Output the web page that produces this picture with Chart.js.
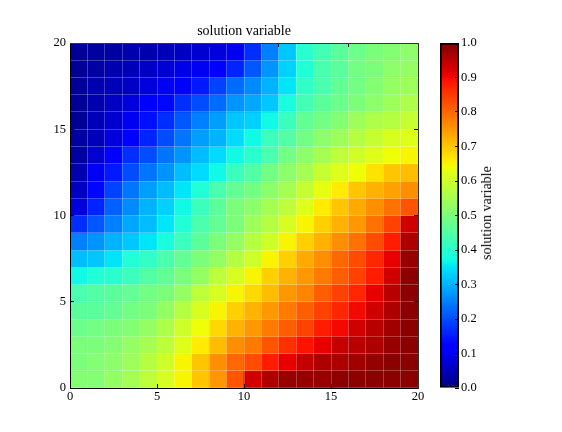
<!DOCTYPE html>
<html><head><meta charset="utf-8">
<script src="https://cdn.jsdelivr.net/npm/chart.js@4.4.0/dist/chart.umd.min.js"></script>
<style>
html,body{margin:0;padding:0;background:#fff;}
#wrap{position:relative;width:562px;height:432px;overflow:hidden;background:#fff;}
#main{position:absolute;left:0;top:0;width:562px;height:432px;}
#cbar{position:absolute;left:420px;top:0;width:142px;height:432px;}
#cblabel{position:absolute;left:487px;top:213px;transform:translate(-50%,-50%) rotate(-90deg);font:14px 'Liberation Serif',serif;white-space:nowrap;color:#000;}
</style></head><body>
<div id="wrap">
<canvas id="main" width="562" height="432"></canvas>
<canvas id="cbar" width="142" height="432"></canvas>
<div id="cblabel">solution variable</div>
</div>
<script>
// ---- data ----
const xCells = [0,1,2,3,4,5,6,7,8,9,10,11,12,13,14,15,16,17,18,19];
const yCells = [0,1,2,3,4,5,6,7,8,9,10,11,12,13,14,15,16,17,18,19];
const xTickLabels = ['0','5','10','15','20'];
const yTickLabels = ['0','5','10','15','20'];
const cbarTickLabels = ['0.0','0.1','0.2','0.3','0.4','0.5','0.6','0.7','0.8','0.9','1.0'];
const titleText = 'solution variable';

// each row: values for x cells 0..19 at given y cell
const rowY19 = [0.02,0.03,0.03,0.04,0.04,0.05,0.06,0.07,0.08,0.10,0.17,0.25,0.32,0.40,0.43,0.46,0.48,0.50,0.51,0.52];
const rowY18 = [0.02,0.03,0.04,0.05,0.06,0.07,0.09,0.10,0.12,0.16,0.21,0.27,0.33,0.39,0.44,0.46,0.49,0.50,0.52,0.53];
const rowY17 = [0.02,0.04,0.05,0.06,0.08,0.10,0.12,0.15,0.19,0.23,0.26,0.30,0.35,0.41,0.44,0.47,0.49,0.51,0.53,0.54];
const rowY16 = [0.02,0.04,0.06,0.08,0.11,0.13,0.17,0.20,0.23,0.27,0.29,0.32,0.38,0.43,0.46,0.48,0.50,0.52,0.54,0.56];
const rowY15 = [0.02,0.05,0.07,0.10,0.14,0.17,0.21,0.25,0.28,0.32,0.33,0.37,0.42,0.47,0.49,0.51,0.54,0.56,0.57,0.59];
const rowY14 = [0.03,0.05,0.08,0.12,0.16,0.20,0.24,0.28,0.30,0.34,0.37,0.42,0.45,0.49,0.52,0.54,0.57,0.59,0.61,0.62];
const rowY13 = [0.03,0.07,0.12,0.17,0.20,0.24,0.27,0.31,0.34,0.37,0.40,0.44,0.49,0.52,0.55,0.58,0.60,0.62,0.64,0.65];
const rowY12 = [0.04,0.10,0.15,0.20,0.24,0.27,0.31,0.34,0.37,0.42,0.45,0.49,0.52,0.55,0.59,0.62,0.64,0.67,0.70,0.71];
const rowY11 = [0.06,0.13,0.19,0.24,0.28,0.31,0.35,0.39,0.44,0.47,0.49,0.52,0.55,0.59,0.63,0.66,0.70,0.72,0.74,0.76];
const rowY10 = [0.08,0.16,0.22,0.26,0.30,0.33,0.37,0.42,0.46,0.50,0.52,0.55,0.58,0.62,0.66,0.70,0.73,0.76,0.79,0.82];
const rowY9  = [0.17,0.21,0.25,0.29,0.31,0.35,0.39,0.44,0.47,0.50,0.54,0.57,0.61,0.65,0.69,0.72,0.75,0.79,0.84,0.93];
const rowY8  = [0.25,0.27,0.30,0.32,0.35,0.38,0.42,0.46,0.50,0.53,0.57,0.60,0.65,0.69,0.72,0.76,0.79,0.83,0.88,0.96];
const rowY7  = [0.31,0.32,0.35,0.39,0.41,0.44,0.47,0.50,0.53,0.57,0.60,0.65,0.69,0.73,0.76,0.80,0.83,0.87,0.91,0.98];
const rowY6  = [0.37,0.39,0.40,0.42,0.45,0.47,0.50,0.53,0.58,0.61,0.65,0.69,0.72,0.75,0.78,0.81,0.84,0.88,0.93,0.99];
const rowY5  = [0.44,0.45,0.46,0.47,0.49,0.50,0.53,0.58,0.61,0.65,0.68,0.71,0.75,0.77,0.81,0.84,0.87,0.91,0.95,0.99];
const rowY4  = [0.46,0.46,0.47,0.49,0.50,0.53,0.57,0.61,0.65,0.69,0.72,0.75,0.78,0.81,0.84,0.87,0.90,0.93,0.96,0.99];
const rowY3  = [0.48,0.49,0.50,0.51,0.53,0.56,0.60,0.64,0.68,0.72,0.75,0.78,0.81,0.84,0.88,0.90,0.93,0.95,0.97,0.99];
const rowY2  = [0.50,0.50,0.51,0.53,0.55,0.58,0.62,0.66,0.71,0.76,0.78,0.82,0.86,0.89,0.91,0.94,0.95,0.96,0.98,0.99];
const rowY1  = [0.50,0.51,0.52,0.54,0.57,0.60,0.65,0.70,0.76,0.80,0.83,0.88,0.91,0.94,0.96,0.96,0.97,0.98,0.99,0.99];
const rowY0  = [0.51,0.51,0.53,0.55,0.58,0.61,0.65,0.70,0.75,0.82,0.93,0.96,0.98,0.98,0.98,0.99,0.99,0.99,0.99,0.99];

const rows = [rowY0,rowY1,rowY2,rowY3,rowY4,rowY5,rowY6,rowY7,rowY8,rowY9,
              rowY10,rowY11,rowY12,rowY13,rowY14,rowY15,rowY16,rowY17,rowY18,rowY19];

// ---- jet colormap (matplotlib segment data) ----
function seg(pts, v) {
  for (let i = 1; i < pts.length; i++) {
    if (v <= pts[i][0]) {
      const a = pts[i-1], b = pts[i];
      return a[1] + (b[1]-a[1]) * (v-a[0]) / (b[0]-a[0]);
    }
  }
  return pts[pts.length-1][1];
}
function jet(v) {
  v = Math.max(0, Math.min(1, v));
  const r = seg([[0,0],[0.35,0],[0.66,1],[0.89,1],[1,0.5]], v);
  const g = seg([[0,0],[0.125,0],[0.375,1],[0.64,1],[0.91,0],[1,0]], v);
  const b = seg([[0,0.5],[0.11,1],[0.34,1],[0.65,0],[1,0]], v);
  return 'rgb(' + Math.round(r*255) + ',' + Math.round(g*255) + ',' + Math.round(b*255) + ')';
}

const cells = [], cellColors = [];
yCells.forEach((yv, j) => {
  xCells.forEach((xv, i) => {
    cells.push({x: xv + 0.5, y: [yv, yv + 1]});
    cellColors.push(jet(rows[j][i]));
  });
});

const FONT = "'Liberation Serif','Times New Roman',serif";
Chart.defaults.font.family = FONT;
Chart.defaults.font.size = 12.5;
Chart.defaults.color = '#000';

const tickCol = (c) => (c.tick && c.tick.value % 5 === 0) ? '#000' : 'rgba(0,0,0,0)';
const gridCol = (c) => (c.tick && c.tick.value > 0 && c.tick.value < 20) ? 'rgba(255,255,255,0.24)' : 'rgba(0,0,0,0)';
const lbl = (arr) => function(v) { return (v % 5 === 0) ? arr[v/5] : ''; };

new Chart(document.getElementById('main'), {
  type: 'bar',
  data: { datasets: [{ data: cells, backgroundColor: cellColors, borderWidth: 0,
                       barPercentage: 1, categoryPercentage: 1 }] },
  options: {
    responsive: false, animation: false, devicePixelRatio: 1,
    layout: { padding: { left: 0, right: 144, top: 0, bottom: 0 } },
    plugins: {
      legend: { display: false }, tooltip: { enabled: false },
      title: { display: true, text: titleText, fullSize: false, color: '#000',
               font: { family: FONT, size: 14, weight: 'normal', lineHeight: 1.2 },
               padding: { top: 23, bottom: 3.2 } }
    },
    scales: {
      x: { type: 'linear', position: 'bottom', min: 0, max: 20, offset: false,
           ticks: { stepSize: 1, autoSkip: false, maxRotation: 0, padding: 5, callback: lbl(xTickLabels) },
           grid: { offset: false, z: 1, color: gridCol, lineWidth: 1, drawTicks: true, tickLength: -4,
                   tickColor: tickCol, tickWidth: 1 },
           border: { display: true, color: '#000', width: 1, z: 2 },
           afterFit: (s) => { s.height = 44; } },
      y: { type: 'linear', position: 'left', min: 0, max: 20,
           ticks: { stepSize: 1, autoSkip: false, padding: 8, callback: lbl(yTickLabels) },
           grid: { z: 1, color: gridCol, lineWidth: 1, drawTicks: true, tickLength: -4,
                   tickColor: tickCol, tickWidth: 1 },
           border: { display: true, color: '#000', width: 1, z: 2 },
           afterFit: (s) => { s.width = 70; } },
      x2: { type: 'linear', position: 'top', min: 0, max: 20,
            ticks: { display: false, stepSize: 5 },
            grid: { z: 1, drawOnChartArea: false, drawTicks: true, tickLength: -4, tickColor: '#000' },
            border: { display: true, color: '#333', width: 1, z: 2 },
            afterFit: (s) => { s.height = 0; } },
      y2: { type: 'linear', position: 'right', min: 0, max: 20,
            ticks: { display: false, stepSize: 5 },
            grid: { z: 1, drawOnChartArea: false, drawTicks: true, tickLength: -4, tickColor: '#000' },
            border: { display: true, color: '#333', width: 1, z: 2 },
            afterFit: (s) => { s.width = 0; } }
    }
  }
});

// ---- colorbar ----
function jetGradient(c) {
  const area = c.chart.chartArea;
  if (!area) return jet(0.5);
  const g = c.chart.ctx.createLinearGradient(0, area.bottom, 0, area.top);
  for (let k = 0; k <= 100; k++) g.addColorStop(k/100, jet(k/100));
  return g;
}
new Chart(document.getElementById('cbar'), {
  type: 'bar',
  data: { labels: [''], datasets: [{ data: [[0, 1]], backgroundColor: jetGradient,
          borderColor: '#000', borderWidth: 2, borderSkipped: false,
          barPercentage: 1, categoryPercentage: 1 }] },
  options: {
    responsive: false, animation: false, devicePixelRatio: 1,
    layout: { padding: { left: 20, right: 0, top: 43, bottom: 44 } },
    plugins: { legend: { display: false }, tooltip: { enabled: false } },
    scales: {
      x: { type: 'category', display: false },
      y: { type: 'linear', position: 'right', min: 0, max: 1,
           ticks: { stepSize: 0.1, padding: 6, callback: (v) => cbarTickLabels[Math.round(v*10)] },
           grid: { z: 1, drawOnChartArea: false, drawTicks: true, tickLength: -4, tickColor: '#000' },
           border: { display: false },
           afterFit: (s) => { s.width = 103; } }
    }
  }
});
</script>
</body></html>
